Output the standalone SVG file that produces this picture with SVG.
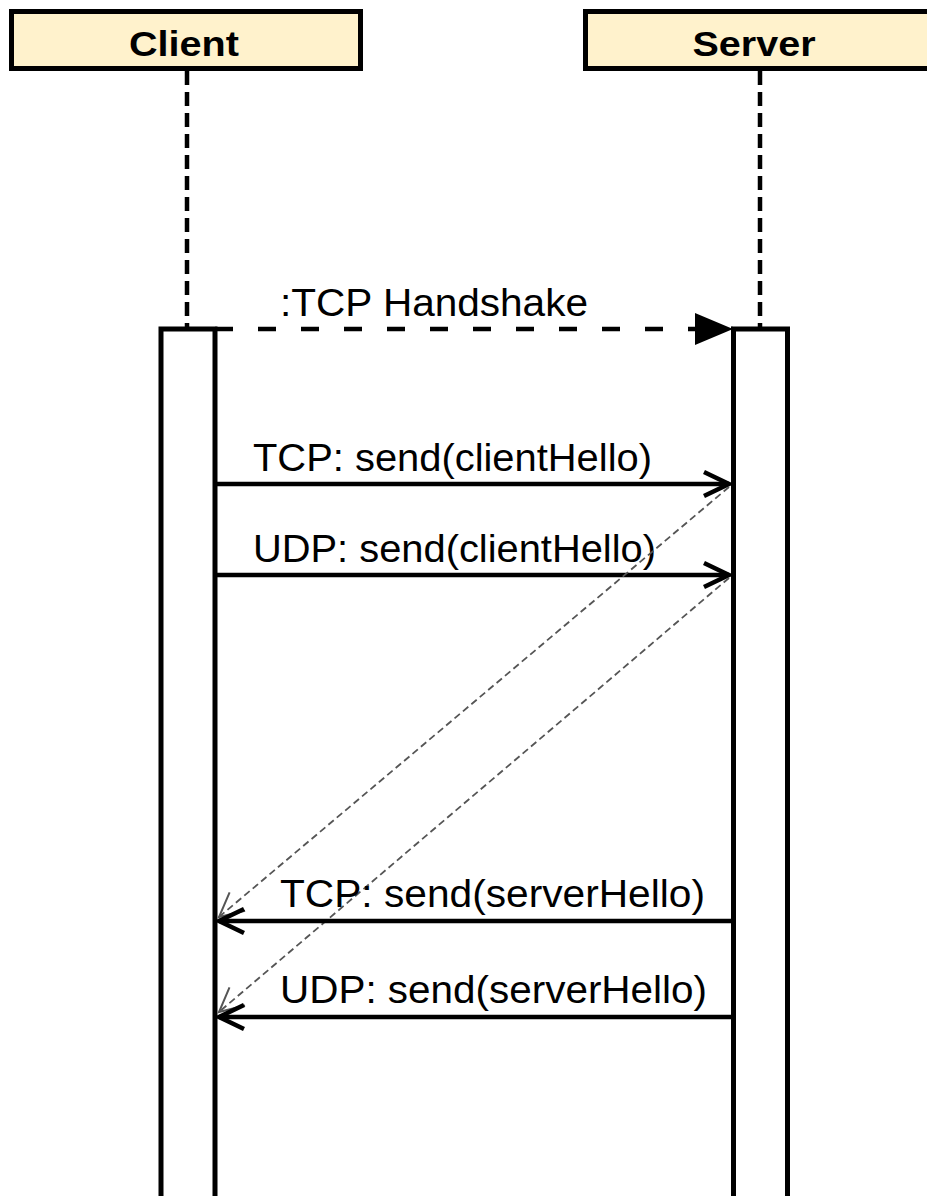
<svg xmlns="http://www.w3.org/2000/svg" width="927" height="1196" viewBox="0 0 927 1196">
<style>
.hdr{fill:#FFF2CC;stroke:#000;stroke-width:5}
.hdrtxt{font-family:"Liberation Sans",Arial,sans-serif;font-weight:bold;font-size:35px;text-anchor:middle;fill:#000}
.life{stroke:#000;stroke-width:4.5;stroke-dasharray:14 7;fill:none}
.act{fill:#fff;stroke:#000;stroke-width:5}
.msg{stroke:#000;stroke-width:4.5;fill:none}
.ret{stroke:#555;stroke-width:1.8;stroke-dasharray:7 4;fill:none}
.lbl{font-family:"Liberation Sans",Arial,sans-serif;font-size:38px;fill:#000}
</style>
<defs>
<marker id="tri" markerUnits="userSpaceOnUse" markerWidth="40" markerHeight="34" refX="38" refY="16" orient="auto" overflow="visible">
<path d="M0,0 L38,16 L0,32 Z" fill="#000"/>
</marker>
<marker id="open" markerUnits="userSpaceOnUse" markerWidth="32" markerHeight="30" refX="27" refY="13" orient="auto" overflow="visible">
<path d="M2,1 L27,13 L2,25" fill="none" stroke="#000" stroke-width="4.5"/>
</marker>
<marker id="opengrey" markerUnits="userSpaceOnUse" markerWidth="30" markerHeight="30" refX="26" refY="13" orient="auto" overflow="visible">
<path d="M2,1 L26,13 L2,25" fill="none" stroke="#555" stroke-width="2"/>
</marker>
</defs>
<g id="client">
<rect class="hdr" x="11.5" y="11.5" width="349" height="57"/>
<text class="hdrtxt" x="184" y="56" textLength="110" lengthAdjust="spacingAndGlyphs">Client</text>
<line class="life" x1="187" y1="71" x2="187" y2="329"/>
<rect class="act" x="161" y="329" width="54" height="900"/>
</g>
<g id="server">
<rect class="hdr" x="585.5" y="11.5" width="349" height="57"/>
<text class="hdrtxt" x="754" y="56" textLength="123" lengthAdjust="spacingAndGlyphs">Server</text>
<line class="life" x1="760" y1="71" x2="760" y2="329"/>
<rect class="act" x="733.5" y="329" width="54" height="900"/>
</g>
<g id="connectors">
<line class="msg" x1="215" y1="329" x2="733" y2="329" stroke-dasharray="18 25" marker-end="url(#tri)"/>
<text class="lbl" x="280" y="316" textLength="308" lengthAdjust="spacingAndGlyphs">:TCP Handshake</text>
<line class="msg" x1="217" y1="484" x2="729" y2="484" marker-end="url(#open)"/>
<text class="lbl" x="253" y="471" textLength="399" lengthAdjust="spacingAndGlyphs">TCP: send(clientHello)</text>
<line class="msg" x1="217" y1="575" x2="729" y2="575" marker-end="url(#open)"/>
<text class="lbl" x="253" y="562" textLength="403" lengthAdjust="spacingAndGlyphs">UDP: send(clientHello)</text>
<line class="ret" x1="729" y1="487" x2="219" y2="917" marker-end="url(#opengrey)"/>
<line class="ret" x1="729" y1="578" x2="219" y2="1012" marker-end="url(#opengrey)"/>
<line class="msg" x1="731" y1="921" x2="219" y2="921" marker-end="url(#open)"/>
<text class="lbl" x="280" y="907" textLength="425" lengthAdjust="spacingAndGlyphs">TCP: send(serverHello)</text>
<line class="msg" x1="731" y1="1017" x2="219" y2="1017" marker-end="url(#open)"/>
<text class="lbl" x="280" y="1003" textLength="427" lengthAdjust="spacingAndGlyphs">UDP: send(serverHello)</text>
</g>
</svg>
